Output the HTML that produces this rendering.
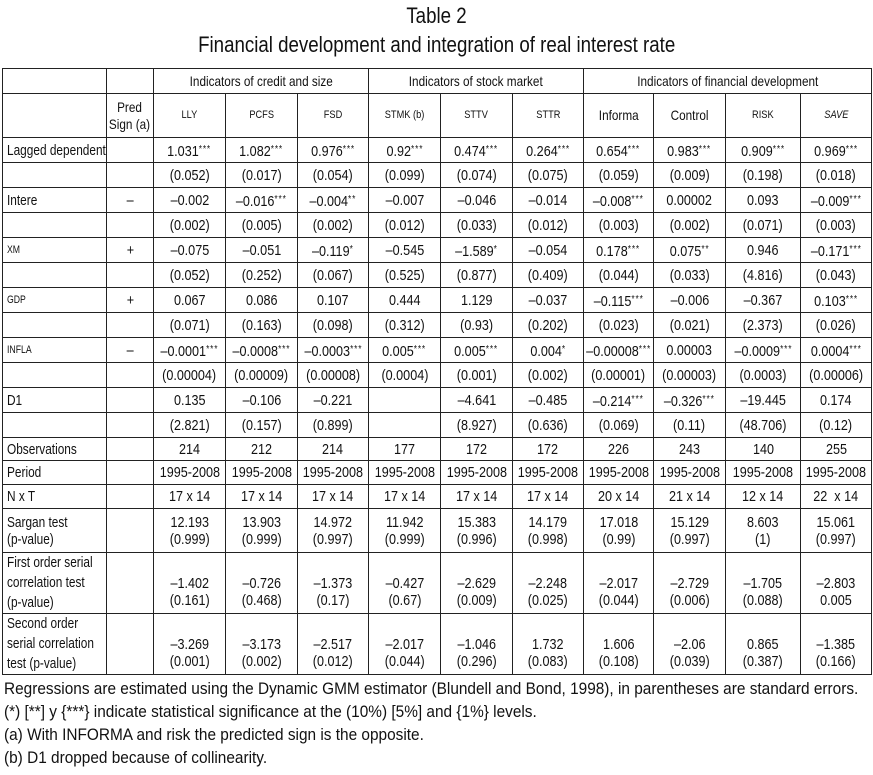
<!DOCTYPE html>
<html><head><meta charset="utf-8">
<style>
html,body{margin:0;padding:0;background:#fff;width:873px;height:775px;overflow:hidden}
body{font-family:"Liberation Sans Narrow","Liberation Sans",sans-serif;color:#111;position:relative}
.title{position:absolute;left:0;width:873px;text-align:center;font-size:22px}
.title span{display:inline-block;transform:scaleX(.85);margin:0 -60px}
table{position:absolute;left:2px;top:68px;border-collapse:collapse;table-layout:fixed;width:870px}
td{border:1px solid #222;padding:0;text-align:center;font-size:15px;line-height:17px;overflow:hidden;white-space:nowrap}
td.l{text-align:left;padding-left:4px}
td.h{font-size:14px}
td.s{font-size:11px}
td .c{display:inline-block;transform:scaleX(.84);margin:0 -30px}
td.l .c{transform:scaleX(.79);transform-origin:0 50%;margin:0 -60px 0 0}
.st{font-size:10px;vertical-align:4px;letter-spacing:1px}
.foot{position:absolute;left:4px;font-size:17px;transform:scaleX(.905);transform-origin:0 0;white-space:nowrap}
</style></head><body>
<div class="title" style="top:3px"><span>Table 2</span></div>
<div class="title" style="top:32px"><span>Financial development and integration of real interest rate</span></div>
<table id="t">
<colgroup><col style="width:104px"><col style="width:47px"><col style="width:72px"><col style="width:72px"><col style="width:71px"><col style="width:72px"><col style="width:72px"><col style="width:71px"><col style="width:70px"><col style="width:72px"><col style="width:75px"><col style="width:71px"></colgroup>
<tr style="height:25px"><td></td><td></td><td class="h" colspan="3">Indicators of credit and size</td><td class="h" colspan="3">Indicators of stock market</td><td class="h" colspan="4">Indicators of financial development</td></tr>
<tr style="height:44px"><td></td><td class="h">Pred<br>Sign (a)</td><td class="s">LLY</td><td class="s">PCFS</td><td class="s">FSD</td><td class="s">STMK (b)</td><td class="s">STTV</td><td class="s">STTR</td><td class="h">Informa</td><td class="h">Control</td><td class="s">RISK</td><td class="s"><i>SAVE</i></td></tr>
<tr style="height:25px"><td class="l">Lagged dependent</td><td></td><td>1.031<span class="st">***</span></td><td>1.082<span class="st">***</span></td><td>0.976<span class="st">***</span></td><td>0.92<span class="st">***</span></td><td>0.474<span class="st">***</span></td><td>0.264<span class="st">***</span></td><td>0.654<span class="st">***</span></td><td>0.983<span class="st">***</span></td><td>0.909<span class="st">***</span></td><td>0.969<span class="st">***</span></td></tr>
<tr style="height:25px"><td></td><td></td><td>(0.052)</td><td>(0.017)</td><td>(0.054)</td><td>(0.099)</td><td>(0.074)</td><td>(0.075)</td><td>(0.059)</td><td>(0.009)</td><td>(0.198)</td><td>(0.018)</td></tr>
<tr style="height:25px"><td class="l">Intere</td><td>–</td><td>–0.002</td><td>–0.016<span class="st">***</span></td><td>–0.004<span class="st">**</span></td><td>–0.007</td><td>–0.046</td><td>–0.014</td><td>–0.008<span class="st">***</span></td><td>0.00002</td><td>0.093</td><td>–0.009<span class="st">***</span></td></tr>
<tr style="height:25px"><td></td><td></td><td>(0.002)</td><td>(0.005)</td><td>(0.002)</td><td>(0.012)</td><td>(0.033)</td><td>(0.012)</td><td>(0.003)</td><td>(0.002)</td><td>(0.071)</td><td>(0.003)</td></tr>
<tr style="height:25px"><td class="l s">XM</td><td>+</td><td>–0.075</td><td>–0.051</td><td>–0.119<span class="st">*</span></td><td>–0.545</td><td>–1.589<span class="st">*</span></td><td>–0.054</td><td>0.178<span class="st">***</span></td><td>0.075<span class="st">**</span></td><td>0.946</td><td>–0.171<span class="st">***</span></td></tr>
<tr style="height:25px"><td></td><td></td><td>(0.052)</td><td>(0.252)</td><td>(0.067)</td><td>(0.525)</td><td>(0.877)</td><td>(0.409)</td><td>(0.044)</td><td>(0.033)</td><td>(4.816)</td><td>(0.043)</td></tr>
<tr style="height:25px"><td class="l s">GDP</td><td>+</td><td>0.067</td><td>0.086</td><td>0.107</td><td>0.444</td><td>1.129</td><td>–0.037</td><td>–0.115<span class="st">***</span></td><td>–0.006</td><td>–0.367</td><td>0.103<span class="st">***</span></td></tr>
<tr style="height:25px"><td></td><td></td><td>(0.071)</td><td>(0.163)</td><td>(0.098)</td><td>(0.312)</td><td>(0.93)</td><td>(0.202)</td><td>(0.023)</td><td>(0.021)</td><td>(2.373)</td><td>(0.026)</td></tr>
<tr style="height:25px"><td class="l s">INFLA</td><td>–</td><td>–0.0001<span class="st">***</span></td><td>–0.0008<span class="st">***</span></td><td>–0.0003<span class="st">***</span></td><td>0.005<span class="st">***</span></td><td>0.005<span class="st">***</span></td><td>0.004<span class="st">*</span></td><td>–0.00008<span class="st">***</span></td><td>0.00003</td><td>–0.0009<span class="st">***</span></td><td>0.0004<span class="st">***</span></td></tr>
<tr style="height:25px"><td></td><td></td><td>(0.00004)</td><td>(0.00009)</td><td>(0.00008)</td><td>(0.0004)</td><td>(0.001)</td><td>(0.002)</td><td>(0.00001)</td><td>(0.00003)</td><td>(0.0003)</td><td>(0.00006)</td></tr>
<tr style="height:25px"><td class="l">D1</td><td></td><td>0.135</td><td>–0.106</td><td>–0.221</td><td></td><td>–4.641</td><td>–0.485</td><td>–0.214<span class="st">***</span></td><td>–0.326<span class="st">***</span></td><td>–19.445</td><td>0.174</td></tr>
<tr style="height:25px"><td></td><td></td><td>(2.821)</td><td>(0.157)</td><td>(0.899)</td><td></td><td>(8.927)</td><td>(0.636)</td><td>(0.069)</td><td>(0.11)</td><td>(48.706)</td><td>(0.12)</td></tr>
<tr style="height:23px"><td class="l">Observations</td><td></td><td>214</td><td>212</td><td>214</td><td>177</td><td>172</td><td>172</td><td>226</td><td>243</td><td>140</td><td>255</td></tr>
<tr style="height:24px"><td class="l">Period</td><td></td><td>1995-2008</td><td>1995-2008</td><td>1995-2008</td><td>1995-2008</td><td>1995-2008</td><td>1995-2008</td><td>1995-2008</td><td>1995-2008</td><td>1995-2008</td><td>1995-2008</td></tr>
<tr style="height:24px"><td class="l">N x T</td><td></td><td>17 x 14</td><td>17 x 14</td><td>17 x 14</td><td>17 x 14</td><td>17 x 14</td><td>17 x 14</td><td>20 x 14</td><td>21 x 14</td><td>12 x 14</td><td>22&nbsp; x 14</td></tr>
<tr style="height:44px"><td class="l">Sargan test<br>(p-value)</td><td></td><td>12.193<br>(0.999)</td><td>13.903<br>(0.999)</td><td>14.972<br>(0.997)</td><td>11.942<br>(0.999)</td><td>15.383<br>(0.996)</td><td>14.179<br>(0.998)</td><td>17.018<br>(0.99)</td><td>15.129<br>(0.997)</td><td>8.603<br>(1)</td><td>15.061<br>(0.997)</td></tr>
<tr style="height:60px"><td class="l" style="line-height:20px">First order serial<br>correlation test<br>(p-value)</td><td></td><td style="padding-top:18px">–1.402<br>(0.161)</td><td style="padding-top:18px">–0.726<br>(0.468)</td><td style="padding-top:18px">–1.373<br>(0.17)</td><td style="padding-top:18px">–0.427<br>(0.67)</td><td style="padding-top:18px">–2.629<br>(0.009)</td><td style="padding-top:18px">–2.248<br>(0.025)</td><td style="padding-top:18px">–2.017<br>(0.044)</td><td style="padding-top:18px">–2.729<br>(0.006)</td><td style="padding-top:18px">–1.705<br>(0.088)</td><td style="padding-top:18px">–2.803<br>0.005</td></tr>
<tr style="height:59px"><td class="l" style="line-height:20px">Second order<br>serial correlation<br>test (p-value)</td><td></td><td style="padding-top:18px">–3.269<br>(0.001)</td><td style="padding-top:18px">–3.173<br>(0.002)</td><td style="padding-top:18px">–2.517<br>(0.012)</td><td style="padding-top:18px">–2.017<br>(0.044)</td><td style="padding-top:18px">–1.046<br>(0.296)</td><td style="padding-top:18px">1.732<br>(0.083)</td><td style="padding-top:18px">1.606<br>(0.108)</td><td style="padding-top:18px">–2.06<br>(0.039)</td><td style="padding-top:18px">0.865<br>(0.387)</td><td style="padding-top:18px">–1.385<br>(0.166)</td></tr>
</table>
<div class="foot" style="top:679px">Regressions are estimated using the Dynamic GMM estimator (Blundell and Bond, 1998), in parentheses are standard errors.</div>
<div class="foot" style="top:702px">(*) [**] y {***} indicate statistical significance at the (10%) [5%] and {1%} levels.</div>
<div class="foot" style="top:725px">(a) With INFORMA and risk the predicted sign is the opposite.</div>
<div class="foot" style="top:748px">(b) D1 dropped because of collinearity.</div>
<script>
document.querySelectorAll('#t td').forEach(function(td){
  if(td.innerHTML.trim()!==''){td.innerHTML='<span class="c">'+td.innerHTML+'</span>';}
});
</script>
</body></html>
